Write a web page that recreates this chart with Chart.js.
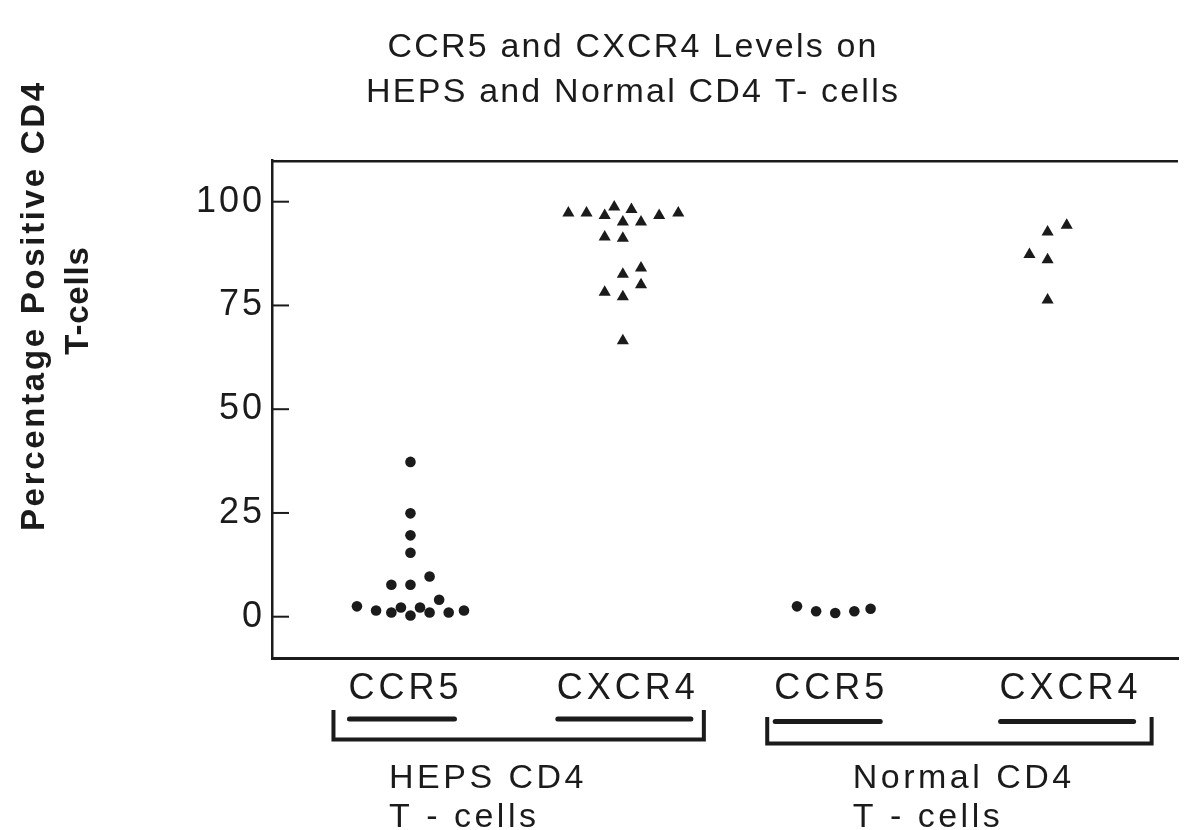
<!DOCTYPE html>
<html><head><meta charset="utf-8">
<script src="https://cdn.jsdelivr.net/npm/chart.js@4.4.1/dist/chart.umd.min.js"></script>
<style>html,body{margin:0;padding:0;background:#fff;}#wrap{width:1185px;height:830px;position:relative;}canvas{display:block;}</style>
</head><body><div id="wrap"><canvas id="c" width="1185" height="830"></canvas></div>
<script>
// ---- data ----
const titleLines = ['CCR5 and CXCR4 Levels on', 'HEPS and Normal CD4 T- cells'];
const yTitleLines = ['Percentage Positive CD4', 'T-cells'];
const categories = ['CCR5', 'CXCR4', 'CCR5', 'CXCR4'];
const groupLabels = [['HEPS CD4', 'T - cells'], ['Normal CD4', 'T - cells']];
const yTicks = [0, 25, 50, 75, 100];

const hepsCCR5 = [2.5, 1.5, 1.0, 2.2, 0.3, 2.2, 1.0, 1.0, 1.5, 4.1, 7.7, 7.7, 9.7, 15.4, 19.6, 24.9, 37.3];
const hepsCCR5Slot = [-5.6, -3.6, -2, -1, 0, 1, 2, 4, 5.6, 3, -2, 0, 2, 0, 0, 0, 0];
const hepsCXCR4 = [97.3, 97.3, 96.7, 98.7, 98.1, 95.1, 95.1, 96.7, 97.3, 91.5, 91.2, 84.0, 82.5, 80.0, 78.2, 77.1, 66.5];
const hepsCXCR4Slot = [-5.7, -3.8, -1.9, -0.9, 0.9, 0, 1.9, 3.8, 5.8, -1.9, 0, 1.9, 0, 1.9, -1.9, 0, 0];
const normalCCR5 = [2.5, 1.3, 0.9, 1.3, 1.9];
const normalCCR5Slot = [-4, -2, 0, 2, 3.7];
const normalCXCR4 = [94.3, 92.7, 87.3, 86.0, 76.3];
const normalCXCR4Slot = [2, 0, -1.9, 0, 0];

// ---- style ----
const INK = '#1b1b1b';
const SLOT = 0.045;
const FONT = '"Liberation Sans", Arial, Helvetica, sans-serif';

function pts(vals, slots, cat) {
  return vals.map((v, i) => ({ x: cat + slots[i] * SLOT, y: v }));
}

const decor = {
  id: 'decor',
  beforeDraw(chart) { chart.ctx.letterSpacing = '3px'; },
  afterDraw(chart) {
    const ctx = chart.ctx, a = chart.chartArea;
    const xs = chart.scales.x, ys = chart.scales.y;
    ctx.save();
    ctx.letterSpacing = '0px';
    ctx.strokeStyle = INK; ctx.fillStyle = INK;
    // top frame line
    ctx.lineWidth = 2.5;
    ctx.beginPath(); ctx.moveTo(a.left, a.top + 1); ctx.lineTo(a.right, a.top + 1); ctx.stroke();
    // inward tick marks
    ctx.lineWidth = 2;
    yTicks.forEach(t => {
      const y = ys.getPixelForValue(t);
      ctx.beginPath(); ctx.moveTo(a.left, y); ctx.lineTo(a.left + 17, y); ctx.stroke();
    });
    // title
    ctx.font = '34px ' + FONT; ctx.letterSpacing = '2.2px';
    ctx.textAlign = 'left'; ctx.textBaseline = 'alphabetic';
    const tBase = [57, 102];
    titleLines.forEach((s, i) => {
      const w = ctx.measureText(s).width - 2.2;
      ctx.fillText(s, 632 - w / 2, tBase[i]);
    });
    // y title (rotated)
    ctx.font = 'bold 33px ' + FONT;
    const yt = [{ s: yTitleLines[0], x: 44, cy: 307, sp: 2.7 }, { s: yTitleLines[1], x: 88, cy: 301, sp: 0.8 }];
    yt.forEach(o => {
      ctx.save();
      ctx.letterSpacing = o.sp + 'px';
      ctx.translate(o.x, o.cy); ctx.rotate(-Math.PI / 2);
      const w = ctx.measureText(o.s).width - o.sp;
      ctx.fillText(o.s, -w / 2, 0);
      ctx.restore();
    });
    // category labels + underlines
    ctx.font = '36px ' + FONT; ctx.letterSpacing = '4px';
    const shift = [-7, 3, -6, 21];
    const ext = [];
    categories.forEach((s, i) => {
      const cx = xs.getPixelForValue(i + 1) + shift[i];
      const w = ctx.measureText(s).width - 4;
      const l = cx - w / 2;
      ctx.fillText(s, l, 699);
      ext.push([l, l + w]);
      ctx.lineWidth = 5; ctx.lineCap = 'round';
      const uy = i < 2 ? 719 : 721.5;
      ctx.beginPath(); ctx.moveTo(l + 1, uy); ctx.lineTo(l + w - 4, uy); ctx.stroke();
    });
    // brackets
    ctx.lineWidth = 4; ctx.lineCap = 'butt'; ctx.lineJoin = 'miter';
    const br = [{ l: ext[0][0] - 15, r: ext[1][1] + 9, top: 710, y: 739.5 },
                { l: ext[2][0] - 7, r: ext[3][1] + 14, top: 717, y: 743.5 }];
    br.forEach(b => {
      ctx.beginPath();
      ctx.moveTo(b.l, b.top); ctx.lineTo(b.l, b.y); ctx.lineTo(b.r, b.y); ctx.lineTo(b.r, b.top);
      ctx.stroke();
    });
    // group labels
    ctx.font = '34px ' + FONT; ctx.letterSpacing = '3.5px';
    const gx = [xs.getPixelForValue(1) - 21.5, xs.getPixelForValue(3) + 17.5];
    groupLabels.forEach((lines, g) => {
      lines.forEach((s, k) => { ctx.fillText(s, gx[g], 788 + k * 39); });
    });
    ctx.restore();
  }
};

new Chart(document.getElementById('c'), {
  type: 'scatter',
  data: {
    datasets: [
      { label: 'HEPS CCR5', data: pts(hepsCCR5, hepsCCR5Slot, 1), pointStyle: 'circle', pointRadius: 5.3 },
      { label: 'HEPS CXCR4', data: pts(hepsCXCR4, hepsCXCR4Slot, 2), pointStyle: 'triangle', pointRadius: 7 },
      { label: 'Normal CCR5', data: pts(normalCCR5, normalCCR5Slot, 3), pointStyle: 'circle', pointRadius: 5.3 },
      { label: 'Normal CXCR4', data: pts(normalCXCR4, normalCXCR4Slot, 4), pointStyle: 'triangle', pointRadius: 7 }
    ].map(d => Object.assign(d, { backgroundColor: INK, borderColor: INK, borderWidth: 0, pointHoverRadius: d.pointRadius }))
  },
  options: {
    responsive: false,
    animation: false,
    devicePixelRatio: 1,
    layout: { padding: { top: 160.2, right: 0, left: 0, bottom: 0 } },
    plugins: { legend: { display: false }, tooltip: { enabled: false }, title: { display: false } },
    scales: {
      x: {
        type: 'linear', min: 0.348, max: 4.614,
        grid: { display: false, drawTicks: false },
        border: { display: true, color: INK, width: 3 },
        ticks: { display: false },
        afterFit(s) { s.height = 830 - 658.2; }
      },
      y: {
        type: 'linear', min: -10, max: 110,
        afterBuildTicks(s) { s.ticks = yTicks.map(v => ({ value: v })); },
        grid: { display: false, drawTicks: false },
        border: { display: true, color: INK, width: 2.5 },
        ticks: { color: INK, padding: 7, font: { family: FONT, size: 36 } },
        afterFit(s) { s.width = 272; }
      }
    }
  },
  plugins: [decor]
});
</script>
</body></html>
